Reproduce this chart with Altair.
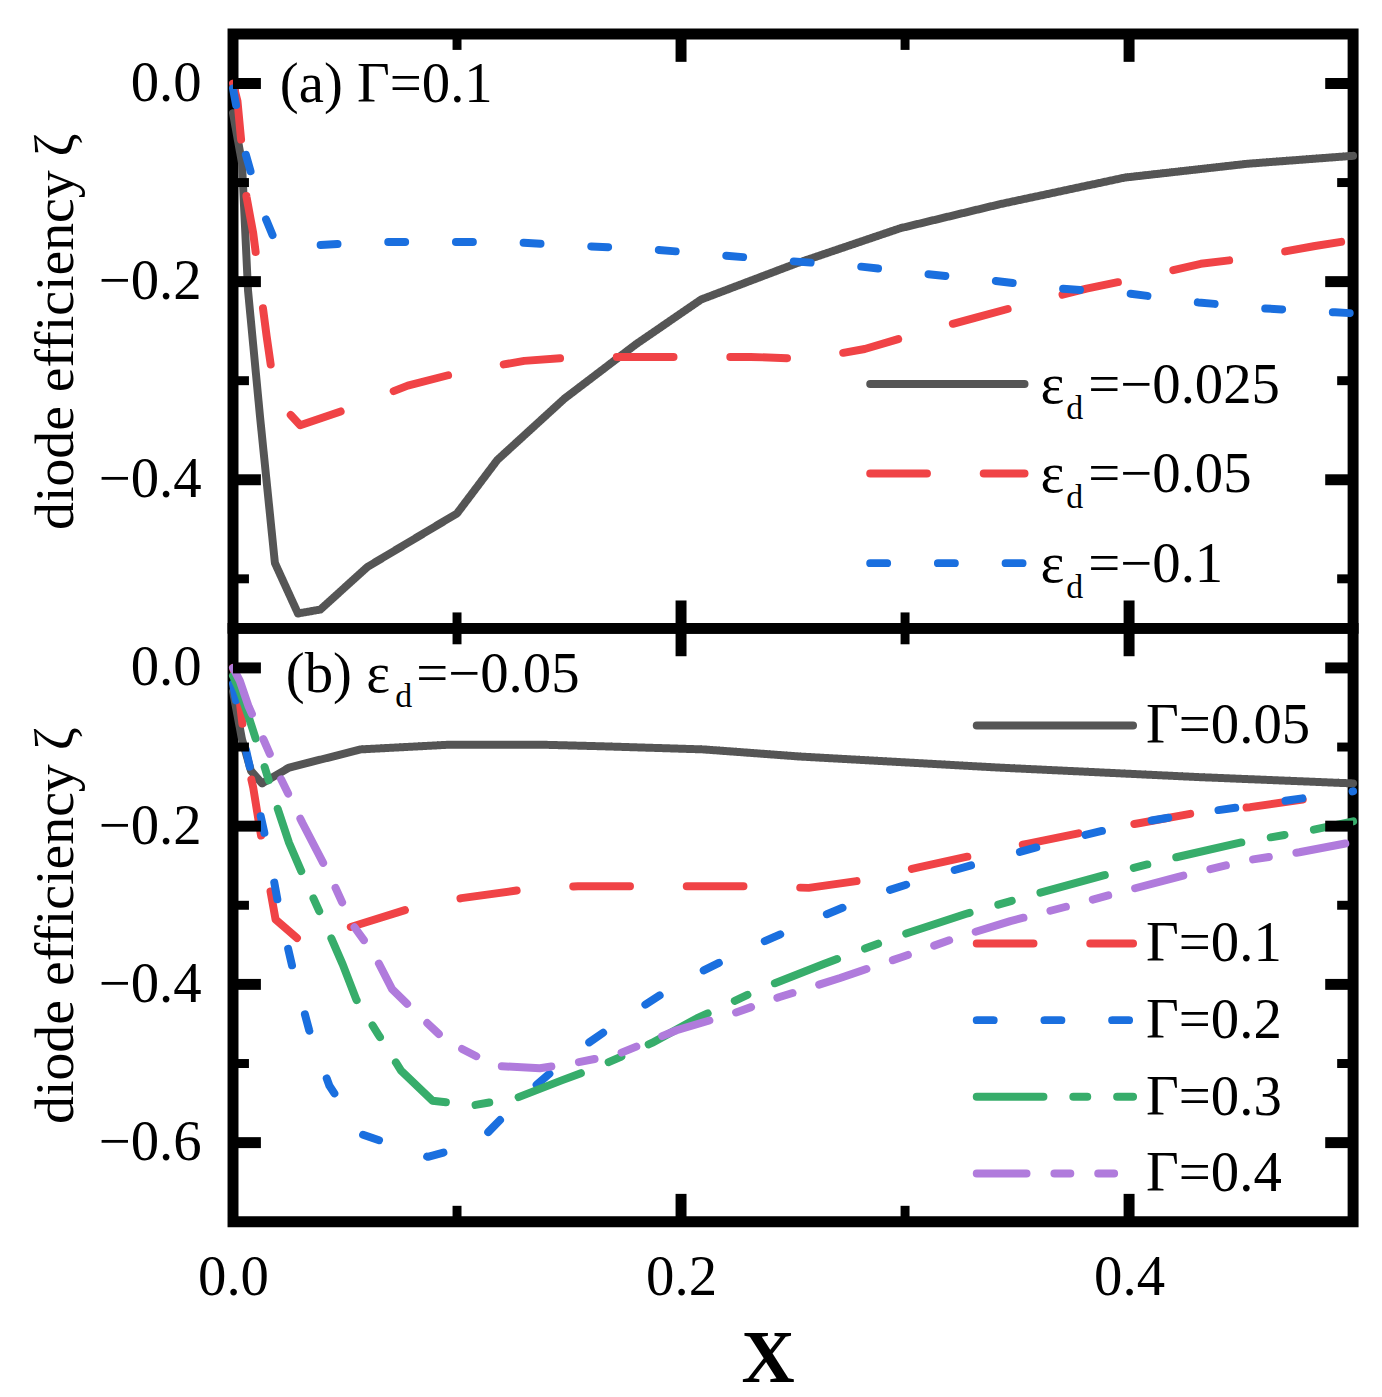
import pandas as pd
import altair as alt

FONT = "Liberation Serif"
W = 1125
H_TOP = 597
H_BOT = 596

# ---------- values ----------
# (a) Gamma = 0.1, three eps_d
a_black_x = [0.0, 0.004, 0.0067, 0.012, 0.0187, 0.029, 0.039, 0.060, 0.100, 0.118, 0.148,
             0.180, 0.209, 0.251, 0.298, 0.342, 0.398, 0.453, 0.5]
a_black_y = [-0.03, -0.08, -0.209, -0.335, -0.484, -0.535, -0.531, -0.488, -0.434, -0.380, -0.318,
             -0.263, -0.218, -0.182, -0.146, -0.122, -0.095, -0.081, -0.073]

red_x = [0.0, 0.002, 0.006, 0.009, 0.015, 0.019, 0.030, 0.052, 0.078, 0.102, 0.130, 0.154,
         0.181, 0.231, 0.257, 0.282, 0.306, 0.332, 0.355, 0.381, 0.405, 0.432, 0.454, 0.483, 0.5]
red_y = [0.0, -0.018, -0.114, -0.151, -0.255, -0.318, -0.345, -0.328, -0.305, -0.291, -0.280, -0.276,
         -0.276, -0.276, -0.278, -0.268, -0.252, -0.236, -0.222, -0.207, -0.196, -0.182, -0.176, -0.164, -0.158]

a_blue_x = [0.0, 0.005, 0.012, 0.018, 0.031, 0.062, 0.093, 0.124, 0.155, 0.185, 0.216, 0.247,
            0.277, 0.308, 0.339, 0.369, 0.400, 0.431, 0.460, 0.492, 0.5]
a_blue_y = [-0.005, -0.066, -0.122, -0.155, -0.164, -0.160, -0.160, -0.160, -0.164, -0.167, -0.173, -0.179,
            -0.184, -0.192, -0.199, -0.207, -0.212, -0.221, -0.227, -0.231, -0.232]

# (b) eps_d = -0.05, five Gamma
b_black_x = [0.0, 0.004, 0.008, 0.013, 0.025, 0.057, 0.097, 0.137, 0.164, 0.210, 0.253, 0.342, 0.431, 0.5]
b_black_y = [-0.03, -0.09, -0.13, -0.146, -0.126, -0.103, -0.097, -0.097, -0.099, -0.103, -0.112, -0.126, -0.138, -0.146]

b_blue_x = [0.0, 0.003, 0.010, 0.016, 0.021, 0.027, 0.034, 0.043, 0.057, 0.087, 0.109, 0.129, 0.151,
            0.176, 0.201, 0.229, 0.256, 0.285, 0.314, 0.344, 0.373, 0.403, 0.434, 0.465, 0.496, 0.5]
b_blue_y = [-0.02, -0.068, -0.157, -0.234, -0.311, -0.384, -0.458, -0.528, -0.589, -0.618, -0.601, -0.543, -0.489,
            -0.440, -0.395, -0.356, -0.322, -0.288, -0.262, -0.238, -0.216, -0.196, -0.182, -0.170, -0.157, -0.156]

b_green_x = [0.0, 0.003, 0.007, 0.012, 0.019, 0.025, 0.032, 0.041, 0.049, 0.055, 0.065, 0.075, 0.089, 0.107,
             0.127, 0.147, 0.164, 0.187, 0.207, 0.236, 0.264, 0.296, 0.327, 0.358, 0.389, 0.42, 0.451, 0.48, 0.5]
b_green_y = [-0.01, -0.029, -0.062, -0.106, -0.170, -0.221, -0.267, -0.323, -0.375, -0.419, -0.464, -0.509, -0.547, -0.553,
             -0.543, -0.521, -0.503, -0.474, -0.443, -0.405, -0.374, -0.340, -0.311, -0.286, -0.262, -0.240, -0.220, -0.206, -0.194]

b_purple_x = [0.0, 0.003, 0.007, 0.014, 0.021, 0.031, 0.044, 0.053, 0.063, 0.071, 0.083, 0.095, 0.117, 0.137,
              0.153, 0.171, 0.198, 0.224, 0.244, 0.271, 0.298, 0.324, 0.347, 0.373, 0.398, 0.422, 0.453, 0.476, 0.5]
b_purple_y = [0.0, -0.016, -0.049, -0.093, -0.138, -0.196, -0.267, -0.323, -0.362, -0.406, -0.439, -0.471, -0.503, -0.506,
              -0.499, -0.489, -0.458, -0.436, -0.416, -0.392, -0.366, -0.340, -0.320, -0.301, -0.282, -0.264, -0.243, -0.233, -0.220]

# labels
a_legend = ["=\u22120.025", "=\u22120.05", "=\u22120.1"]
b_legend = ["\u0393=0.05", "\u0393=0.1", "\u0393=0.2", "\u0393=0.3", "\u0393=0.4"]
x_labels = [0.0, 0.2, 0.4]
x_minor = [0.1, 0.3]
a_y_major = [0.0, -0.2, -0.4]
b_y_major = [0.0, -0.2, -0.4, -0.6]
y_minor = [-0.1, -0.3, -0.5]

# styles
GRAY, RED, BLUE, GREEN, PURPLE = "#555555", "#f04346", "#1a6fdf", "#37ad6b", "#b07bdc"
D_SOLID = [1, 0]
D_RED = [57, 57]
D_BLUE = [17, 51]
D_GREEN = [67, 30, 14, 30]
D_PURPLE = [50, 28, 16, 28, 16, 28]


def one(v):
    return pd.DataFrame({"t": [v]})


def text(label, x, y, size=57, weight="normal"):
    return alt.Chart(one(label)).mark_text(
        font=FONT, fontSize=size, fontWeight=weight, align="left", baseline="alphabetic", color="black"
    ).encode(text="t:N", x=alt.value(x), y=alt.value(y))


def leg_line(x1, x2, y, color, dash):
    return alt.Chart(one(0)).mark_rule(
        color=color, strokeWidth=8, strokeDash=dash, strokeCap="round"
    ).encode(x=alt.value(x1), x2=alt.value(x2), y=alt.value(y))


def panel(series, y_domain, y_major, height, show_x, extra):
    xs = alt.Scale(domain=[0, 0.5], nice=False, zero=False)
    ys = alt.Scale(domain=y_domain, nice=False, zero=False)
    if show_x:
        x_axis = alt.Axis(values=x_labels, format=".1f", ticks=False, domain=False, grid=False,
                          labelFont=FONT, labelFontSize=57, labelColor="black", labelFlush=False,
                          labelBaseline="alphabetic", labelPadding=73,
                          title="X", titleFont=FONT, titleFontSize=74, titleFontWeight="bold",
                          titleColor="black", titleX=537, titleY=160, titleBaseline="alphabetic",
                          titleAlign="center")
    else:
        x_axis = None
    y_axis = alt.Axis(values=y_major, format=".1f", ticks=False, domain=False, grid=False,
                      labelFont=FONT, labelFontSize=57, labelColor="black", labelPadding=32,
                      labelBaseline="middle", labelFlush=False,
                      title="diode efficiency \u03b6", titleFont=FONT, titleFontSize=56,
                      titleFontWeight="normal", titleColor="black", titleAngle=-90,
                      titleX=-161, titleY=height / 2, titleBaseline="alphabetic", titleAlign="center")
    X = lambda f: alt.X(f, scale=xs, axis=x_axis)
    Y = lambda f: alt.Y(f, scale=ys, axis=y_axis)

    layers = []
    for xv, yv, color, dash in series:
        df = pd.DataFrame({"x": xv, "y": yv})
        layers.append(alt.Chart(df).mark_line(
            color=color, strokeWidth=8, strokeDash=dash, strokeCap="round", strokeJoin="round"
        ).encode(x=X("x:Q"), y=Y("y:Q")))

    # inward ticks on all four sides
    y_min = [v for v in y_minor if v > y_domain[0]]
    for vals, L, sw in [(x_labels[1:], 28, 11), (x_minor, 16, 9)]:
        d = pd.DataFrame({"v": vals})
        layers.append(alt.Chart(d).mark_rule(color="black", strokeWidth=sw).encode(
            x=X("v:Q"), y=alt.value(0), y2=alt.value(L)))
        layers.append(alt.Chart(d).mark_rule(color="black", strokeWidth=sw).encode(
            x=X("v:Q"), y=alt.value(height), y2=alt.value(height - L)))
    for vals, L, sw in [(y_major, 28, 11), (y_min, 16, 9)]:
        d = pd.DataFrame({"v": vals})
        layers.append(alt.Chart(d).mark_rule(color="black", strokeWidth=sw).encode(
            y=Y("v:Q"), x=alt.value(0), x2=alt.value(L)))
        layers.append(alt.Chart(d).mark_rule(color="black", strokeWidth=sw).encode(
            y=Y("v:Q"), x=alt.value(W), x2=alt.value(W - L)))

    layers += extra
    return alt.layer(*layers).properties(width=W, height=height)


# ---------- panel (a) ----------
a_series = [
    (a_black_x, a_black_y, GRAY, D_SOLID),
    (red_x, red_y, RED, D_RED),
    (a_blue_x, a_blue_y, BLUE, D_BLUE),
]
a_extra = [text("(a) \u0393=0.1", 47, 68.5)]
for i, (col, dash) in enumerate([(GRAY, D_SOLID), (RED, D_RED), (BLUE, D_BLUE)]):
    yl = 351.5 + 90 * i
    a_extra.append(leg_line(640, 795, yl, col, dash))
    a_extra.append(text("\u03b5", 811, yl + 19))
    a_extra.append(text("d", 837, yl + 35, size=34))
    a_extra.append(text(a_legend[i], 859, yl + 19))

top = panel(a_series, [-0.55, 0.05], a_y_major, H_TOP, False, a_extra)

# ---------- panel (b) ----------
b_series = [
    (b_black_x, b_black_y, GRAY, D_SOLID),
    (red_x, red_y, RED, D_RED),
    (b_blue_x, b_blue_y, BLUE, D_BLUE),
    (b_green_x, b_green_y, GREEN, D_GREEN),
    (b_purple_x, b_purple_y, PURPLE, D_PURPLE),
]
b_extra = [
    text("(b) \u03b5", 53, 63.5),
    text("d", 163, 79, size=34),
    text("=\u22120.05", 184, 63.5),
]
b_rows = [97.5, 316.5, 393.5, 470.5, 547.5]
b_styles = [(GRAY, D_SOLID), (RED, D_RED), (BLUE, D_BLUE), (GREEN, D_GREEN), (PURPLE, D_PURPLE)]
for yl, (col, dash), lab in zip(b_rows, b_styles, b_legend):
    b_extra.append(leg_line(747, 904, yl, col, dash))
    b_extra.append(text(lab, 917, yl + 18))

bottom = panel(b_series, [-0.70, 0.05], b_y_major, H_BOT, True, b_extra)

chart = alt.vconcat(top, bottom, spacing=0, bounds="flush").properties(
    padding={"left": 14, "top": 12, "right": 10, "bottom": 5},
    background="white",
).configure_view(stroke="black", strokeWidth=11)

chart.save("out.html", embed_options={"renderer": "svg", "actions": False})
